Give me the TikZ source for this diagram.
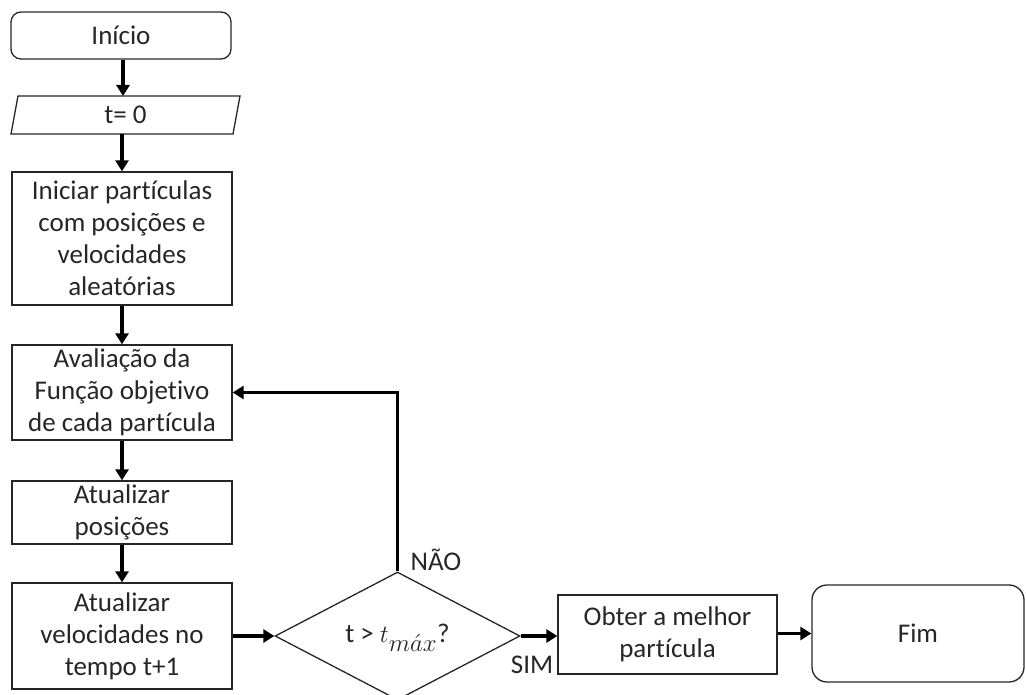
\documentclass[tikz,border=0pt]{standalone}
\usepackage{fontspec}
\setmainfont{Carlito}[Ligatures=NoCommon]
\usetikzlibrary{shapes.geometric,arrows.meta}
\begin{document}
\begin{tikzpicture}[x=1pt,y=-1pt,
  every node/.style={font=\fontsize{27}{32}\selectfont, text=black!85, align=center, inner sep=0pt},
  box/.style={draw=black!85, line width=1.3pt, rectangle, minimum width=220pt},
  term/.style={box, rounded corners=10pt},
  flow/.style={line width=3.6pt, -{Triangle[length=11pt,width=13pt]}},
  line/.style={line width=3.6pt}]
\useasboundingbox (0,0) rectangle (1026,695);

% main column
\node[term, minimum height=47pt] (ini) at (121,35.5) {Início};
\draw[draw=black!85, line width=1.3pt] (18,96) -- (240,96) -- (233,134) -- (11,134) -- cycle;
\node (t0) at (125.5,115) {t= 0};
\coordinate (t0n) at (123,96);
\coordinate (t0s) at (122,134);
\node[box, minimum height=133pt] (part) at (122,238.5) {Iniciar partículas\\com posições e\\velocidades\\aleatórias};
\node[box, minimum height=95pt] (aval) at (122,392.5) {Avaliação da\\Função objetivo\\de cada partícula};
\node[box, minimum height=63pt] (pos) at (122,512.5) {Atualizar\\posições};
\node[box, minimum height=106pt] (vel) at (122,636) {Atualizar\\velocidades no\\tempo t+1};

% decision and final steps
\node[diamond, draw=black!85, line width=1.3pt, minimum width=245pt, minimum height=128pt, aspect=1.914] (dec) at (397.5,636) {};
\node (cond) at (397.5,638) {t > $\displaystyle t_{\textstyle m\acute{a}x}$?};
\node[box, minimum width=219pt, minimum height=79pt] (best) at (667.5,634.5) {Obter a melhor\\partícula};
\node[term, rounded corners=15pt, minimum width=212pt, minimum height=97pt] (fim) at (918,633.5) {Fim};

\node (nao) at (436,560) {NÃO};
\node (sim) at (532,665) {SIM};

% connectors
\draw[flow] (ini.south -| t0n) -- (t0n);
\draw[flow] (t0s) -- (part.north);
\draw[flow] (part.south) -- (aval.north);
\draw[flow] (aval.south) -- (pos.north);
\draw[flow] (pos.south) -- (vel.north);
\draw[flow] (vel.east) -- (dec.west);
\draw[flow] (dec.east) -- (best.west |- dec.east);
\draw[flow] (best.east |- fim.west) -- (fim.west);
\draw[flow] (dec.north) |- (aval.east);
\end{tikzpicture}
\end{document}
